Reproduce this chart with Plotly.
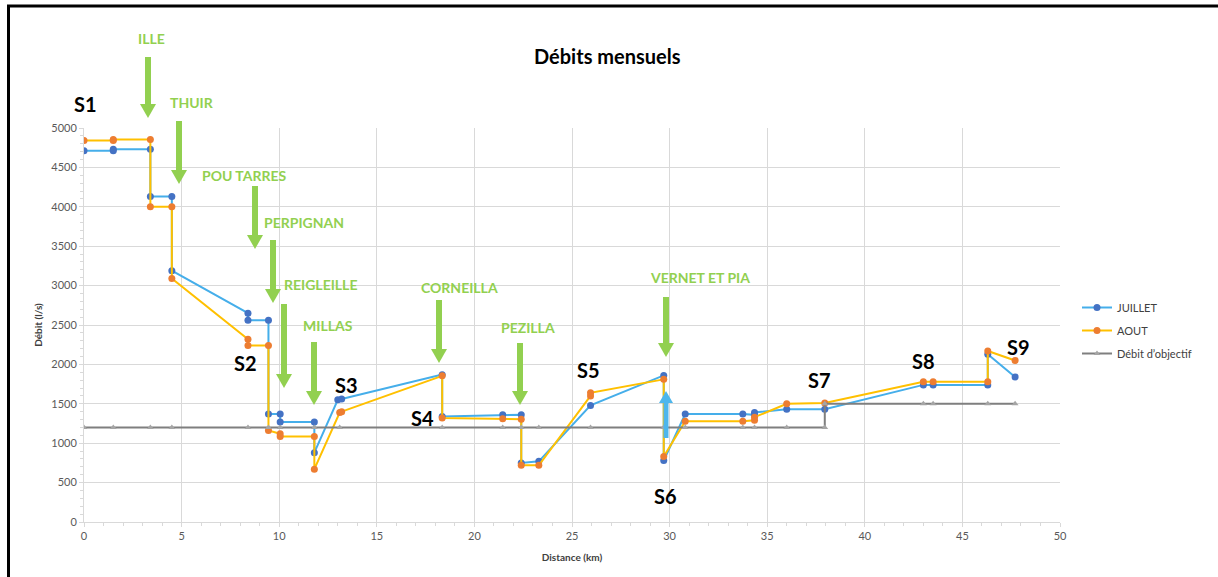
import plotly.graph_objects as go

# ---------------- data ----------------
juillet_x = [0, 1.5, 1.5, 3.4, 3.4, 4.5, 4.5, 8.4, 8.4, 9.45, 9.45, 10.05, 10.05, 11.8, 11.8,
             13.0, 13.2, 18.35, 18.35, 21.45, 22.4, 22.4, 23.3, 25.95, 29.7, 29.7, 30.8,
             33.75, 34.35, 34.35, 36.0, 37.95, 43.0, 43.5, 46.3, 46.3, 47.7]
juillet_y = [4710, 4710, 4730, 4730, 4130, 4130, 3190, 2650, 2560, 2560, 1370, 1370, 1270, 1270, 880,
             1550, 1560, 1870, 1340, 1360, 1360, 750, 770, 1480, 1860, 780, 1370,
             1370, 1360, 1390, 1430, 1430, 1740, 1740, 1740, 2130, 1840]

aout_x = [0, 1.5, 1.5, 3.4, 3.4, 4.5, 4.5, 8.4, 8.4, 9.45, 9.45, 10.05, 10.05, 11.8, 11.8,
          13.1, 13.2, 18.35, 18.35, 21.45, 22.4, 22.4, 23.3, 25.95, 25.95, 29.7, 29.7, 30.8,
          33.75, 34.35, 34.35, 36.0, 37.95, 43.0, 43.5, 46.3, 46.3, 47.7]
aout_y = [4840, 4840, 4855, 4855, 4000, 4000, 3090, 2320, 2240, 2240, 1160, 1120, 1085, 1085, 670,
          1390, 1400, 1855, 1320, 1310, 1305, 720, 720, 1600, 1640, 1810, 830, 1280,
          1280, 1290, 1330, 1500, 1510, 1780, 1780, 1780, 2170, 2050]

objectif_x = [0, 1.5, 3.4, 4.5, 8.4, 9.45, 10.05, 11.8, 13.1, 18.35, 21.45, 22.4, 23.3, 25.95,
              29.7, 30.8, 33.75, 34.35, 36.0, 37.95, 37.95, 43.0, 43.5, 46.3, 47.7]
objectif_y = [1200] * 20 + [1500] * 5

x_ticks = [0, 5, 10, 15, 20, 25, 30, 35, 40, 45, 50]
y_ticks = [0, 500, 1000, 1500, 2000, 2500, 3000, 3500, 4000, 4500, 5000]

# station labels (text, pixel centre)
stations = [("S1", 85, 104), ("S2", 245, 363), ("S3", 346, 385), ("S4", 422, 418),
            ("S5", 588, 370), ("S6", 665, 496), ("S7", 819, 380), ("S8", 923, 361),
            ("S9", 1018, 347)]
# tributaries (text, label centre px, arrow x px, arrow top px, arrow tip px)
tributaries = [("ILLE", 151, 38, 148, 57, 118),
               ("THUIR", 192, 103, 179, 121, 184),
               ("POU TARRES", 244, 175, 255, 186, 249),
               ("PERPIGNAN", 304, 222, 273, 240, 303),
               ("REIGLEILLE", 320, 284, 284, 304, 388),
               ("MILLAS", 328, 325, 314, 342, 405),
               ("CORNEILLA", 459, 287, 439, 300, 363),
               ("PEZILLA", 528, 327, 520, 343, 405),
               ("VERNET ET PIA", 700, 277, 666, 297, 357)]

# ---------------- layout helpers ----------------
W, H = 1218, 577
L, R, T, B = 84, 1060, 128, 522

def px(xp):
    return (xp - L) / (R - L)

def py(yp):
    return (B - yp) / (B - T)

FONT = "Lato, 'Open Sans', sans-serif"
GREEN = "#92D050"

fig = go.Figure()
fig.add_trace(go.Scatter(x=juillet_x, y=juillet_y, name="JUILLET", mode="lines+markers",
                         line=dict(color="#45AEEA", width=2),
                         marker=dict(color="#4472C4", size=7, symbol="circle")))
fig.add_trace(go.Scatter(x=aout_x, y=aout_y, name="AOUT", mode="lines+markers",
                         line=dict(color="#FFC000", width=2),
                         marker=dict(color="#ED7D31", size=7, symbol="circle")))
fig.add_trace(go.Scatter(x=objectif_x, y=objectif_y, name="Débit d’objectif", mode="lines+markers",
                         line=dict(color="#7F7F7F", width=2),
                         marker=dict(color="#A5A5A5", size=6, symbol="triangle-up")))

shapes = []
annotations = []

def down_arrow(xc, top, tip, color, shaft_w=6, head_w=16, head_h=14):
    shapes.append(dict(type="rect", xref="paper", yref="paper",
                       x0=px(xc - shaft_w / 2), x1=px(xc + shaft_w / 2),
                       y0=py(tip - head_h + 1), y1=py(top),
                       fillcolor=color, line=dict(width=0)))
    path = "M %f %f L %f %f L %f %f Z" % (px(xc - head_w / 2), py(tip - head_h),
                                          px(xc + head_w / 2), py(tip - head_h),
                                          px(xc), py(tip))
    shapes.append(dict(type="path", xref="paper", yref="paper", path=path,
                       fillcolor=color, line=dict(width=0)))

for name, lx, ly, ax, atop, atip in tributaries:
    annotations.append(dict(text="<b>%s</b>" % name, x=px(lx), y=py(ly), xref="paper", yref="paper",
                            showarrow=False, font=dict(family=FONT, size=14, color=GREEN),
                            xanchor="center", yanchor="middle"))
    down_arrow(ax, atop, atip, GREEN)

# blue upward arrow at S6
bx, bbot, btip = 666, 438, 391
shapes.append(dict(type="rect", xref="paper", yref="paper",
                   x0=px(bx - 2.5), x1=px(bx + 2.5), y0=py(bbot), y1=py(btip + 11),
                   fillcolor="#4DB6EC", line=dict(width=0)))
shapes.append(dict(type="path", xref="paper", yref="paper",
                   path="M %f %f L %f %f L %f %f Z" % (px(bx - 7), py(btip + 12), px(bx + 7), py(btip + 12),
                                                       px(bx), py(btip)),
                   fillcolor="#4DB6EC", line=dict(width=0)))

for name, lx, ly in stations:
    annotations.append(dict(text="<b>%s</b>" % name, x=px(lx), y=py(ly), xref="paper", yref="paper",
                            showarrow=False, font=dict(family=FONT, size=20, color="#000000"),
                            xanchor="center", yanchor="middle"))

annotations.append(dict(text="<b>Débits mensuels</b>", x=px(607), y=py(56), xref="paper", yref="paper",
                        showarrow=False, font=dict(family=FONT, size=20, color="#000000"),
                        xanchor="center", yanchor="middle"))

# frame lines (left and top)
shapes.append(dict(type="line", xref="paper", yref="paper", x0=px(8.5), x1=px(8.5), y0=py(5), y1=py(580),
                   line=dict(color="#000000", width=3)))
shapes.append(dict(type="line", xref="paper", yref="paper", x0=px(7), x1=px(1220), y0=py(6), y1=py(6),
                   line=dict(color="#000000", width=3)))

axis_common = dict(showgrid=True, gridcolor="#D9D9D9", gridwidth=1, showline=True,
                   linecolor="#D9D9D9", linewidth=1, ticks="outside", tickcolor="#D9D9D9",
                   ticklen=4, zeroline=False,
                   tickfont=dict(family=FONT, size=11, color="#595959"))

fig.update_layout(
    width=W, height=H,
    margin=dict(l=L, r=W - R, t=T, b=H - B, pad=0),
    paper_bgcolor="white", plot_bgcolor="white",
    font=dict(family=FONT),
    showlegend=True,
    legend=dict(x=px(1077), y=py(293), xanchor="left", yanchor="top",
                font=dict(family=FONT, size=11, color="#404040"),
                bgcolor="rgba(0,0,0,0)", tracegroupgap=4, traceorder="grouped"),
    xaxis=dict(range=[0, 50], tickvals=x_ticks, ticktext=[str(v) for v in x_ticks],
               minor=dict(dtick=1, ticks="outside", ticklen=3, tickcolor="#D9D9D9", showgrid=False),
               title=dict(text="<b>Distance (km)</b>", font=dict(family=FONT, size=10, color="#404040"),
                          standoff=12),
               **axis_common),
    yaxis=dict(range=[0, 5000], tickvals=y_ticks, ticktext=[str(v) for v in y_ticks],
               minor=dict(dtick=100, ticks="outside", ticklen=3, tickcolor="#D9D9D9", showgrid=False),
               title=dict(text="<b>Débit (l/s)</b>", font=dict(family=FONT, size=10, color="#404040"),
                          standoff=6),
               **axis_common),
    shapes=shapes,
    annotations=annotations,
)
for i, tr in enumerate(fig.data):
    tr.legendgroup = "g%d" % i

fig.write_html("out.html")
